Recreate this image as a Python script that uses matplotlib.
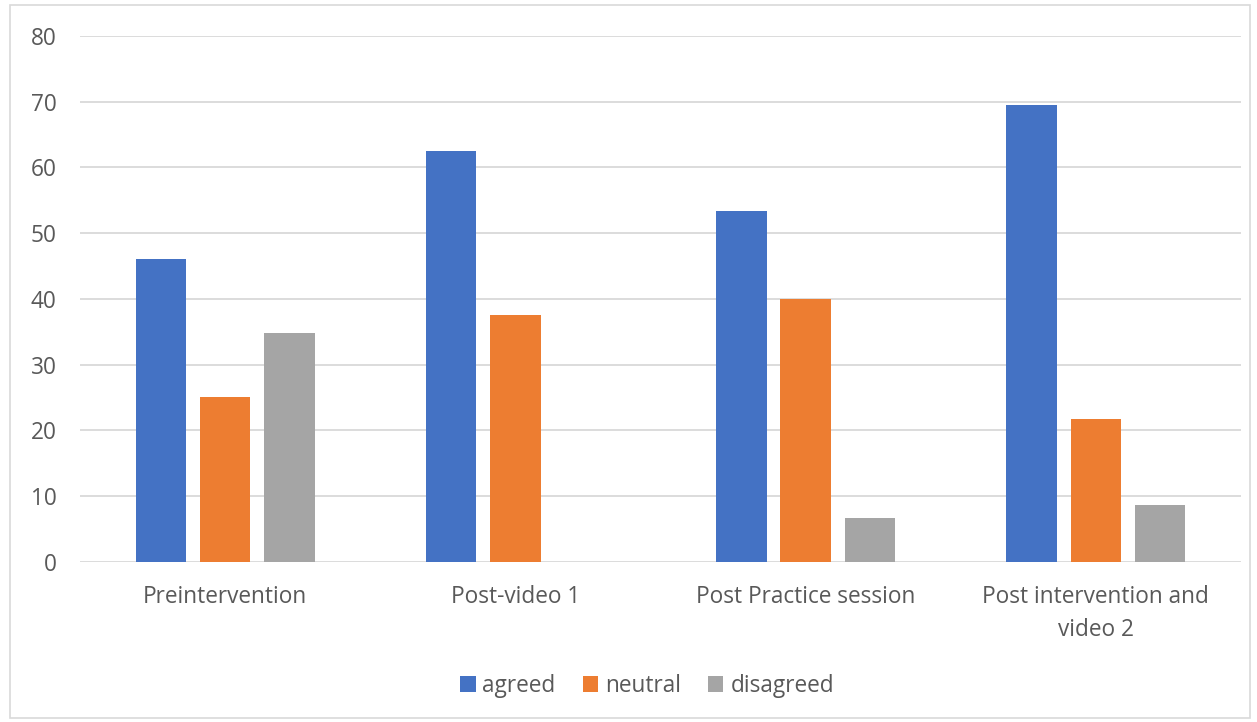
import numpy as np
import matplotlib
matplotlib.use('Agg')
import matplotlib.pyplot as plt
from matplotlib.patches import Rectangle

stages = ['Preintervention', 'Post-video 1', 'Post Practice session',
          'Post intervention and\nvideo 2']
agreed = [46, 62.5, 53.3, 69.5]
neutral = [25, 37.5, 40, 21.7]
disagreed = [34.8, 0, 6.7, 8.7]

series = [('agreed', agreed, '#4472C4'),
          ('neutral', neutral, '#ED7D31'),
          ('disagreed', disagreed, '#A5A5A5')]

plt.rcParams['font.family'] = ['Open Sans', 'DejaVu Sans']
txt = '#595959'
fs = 16.3

fig = plt.figure(figsize=(12.57, 7.22), dpi=100)
ax = fig.add_axes([80 / 1257, 160.3 / 722, 1161 / 1257, 525.7 / 722])

x = np.arange(len(stages))
step = 0.2215
width = 0.174
for i, (name, vals, col) in enumerate(series):
    ax.bar(x + (i - 1) * step, vals, width, color=col, label=name, zorder=3)

ax.set_xlim(-0.5, len(stages) - 0.5)
ax.set_ylim(0, 80)
ax.set_yticks(range(0, 81, 10))
ax.set_xticks(x)
ax.set_xticklabels(stages, linespacing=1.5)
ax.tick_params(axis='both', length=0, labelsize=fs, colors=txt)
ax.tick_params(axis='y', pad=17)
ax.tick_params(axis='x', pad=16.5)
for t in ax.get_xticklabels():
    t.set_verticalalignment('top')

ax.grid(axis='y', color='#d9d9d9', linewidth=1.3, zorder=0)
for s in ax.spines.values():
    s.set_visible(False)

ax.legend(loc='center', bbox_to_anchor=(647 / 1257, 36 / 722),
          bbox_transform=fig.transFigure, ncol=3, frameon=False,
          fontsize=fs, labelcolor=txt, handlelength=0.68, handleheight=0.68,
          handletextpad=0.3, columnspacing=1.2)

# light frame round the whole chart
fig.patches.append(Rectangle((10 / 1257, 4 / 722), 1240 / 1257, 713 / 722,
                             transform=fig.transFigure, fill=False,
                             edgecolor='#d9d9d9', linewidth=1.2))

fig.savefig('out.png', dpi=100, facecolor='white')
